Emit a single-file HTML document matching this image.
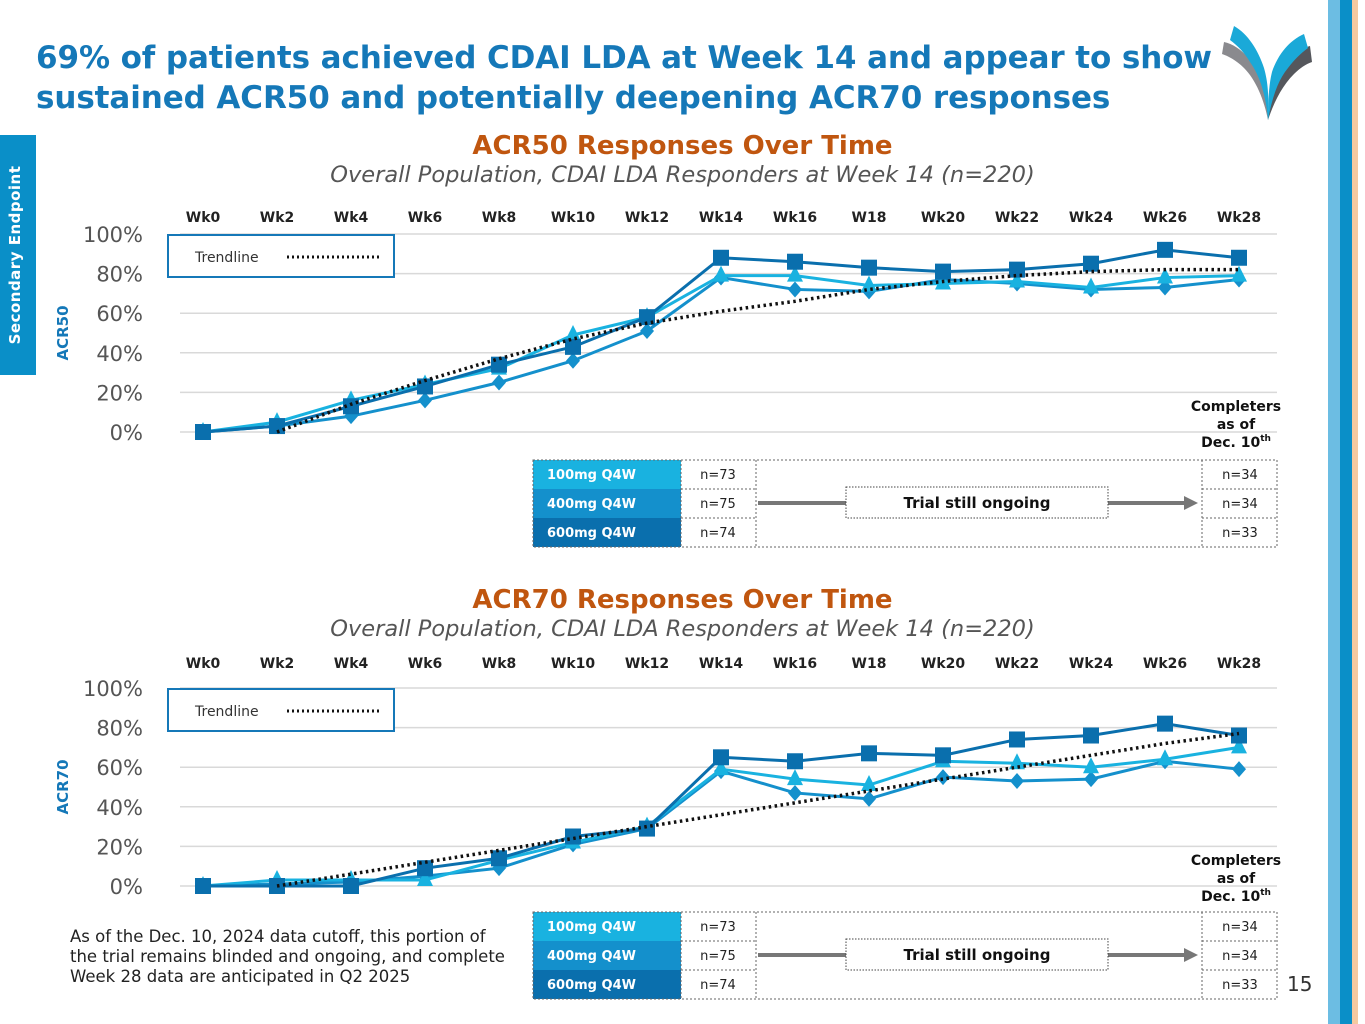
<!DOCTYPE html>
<html><head><meta charset="utf-8">
<style>
body{margin:0;width:1365px;height:1024px;overflow:hidden;background:#fff;font-family:"DejaVu Sans","Liberation Sans",sans-serif;position:relative}
.abs{position:absolute}
.title{left:36px;top:38px;font-size:31px;font-weight:bold;color:#1578b8;line-height:40px;letter-spacing:-0.1px}
.ct{font-size:26px;font-weight:bold;color:#c0560f;text-align:center;width:1365px;left:0}
.cs{font-size:22.5px;font-style:italic;color:#555;text-align:center;width:1365px;left:0}
</style></head><body>
<div class="abs title">69% of patients achieved CDAI LDA at Week 14 and appear to show<br>sustained ACR50 and potentially deepening ACR70 responses</div>
<div class="abs" style="left:0;top:135px;width:36px;height:240px;background:#0a8fc8"></div>
<div class="abs" style="left:-102px;top:243px;width:240px;height:24px;transform:rotate(-90deg);color:#fff;font-weight:bold;font-size:15px;text-align:center;letter-spacing:0.5px">Secondary Endpoint</div>
<div class="abs" style="left:1328px;top:0;width:12px;height:1024px;background:#6cbde3"></div>
<div class="abs" style="left:1340px;top:0;width:12px;height:1024px;background:#0a8fc8"></div>
<div class="abs" style="left:1352px;top:0;width:6px;height:1024px;background:#f5c9a0"></div>
<svg class="abs" style="left:1222px;top:24px" width="90" height="98" viewBox="0 0 90 98">
<path d="M2,18 C20,22 34,40 40,60 C44,74 46,86 46,96 C42,76 34,56 22,44 C14,36 6,32 0,30Z" fill="#8a8a8e"/>
<path d="M12,2 C26,10 36,26 42,44 C46,58 47,72 46,96 C44,72 38,52 28,38 C22,28 16,22 8,16Z" fill="#1aa9d8"/>
<path d="M88,22 C72,26 60,40 54,58 C50,70 47,84 46,96 C52,78 60,62 72,50 C78,44 84,40 90,38Z" fill="#55575c"/>
<path d="M82,10 C68,16 56,30 50,48 C47,60 46,76 46,96 C50,74 56,56 66,44 C72,36 78,30 86,24Z" fill="#1aa9d8"/>
</svg>
<div class="abs ct" style="top:131px">ACR50 Responses Over Time</div>
<div class="abs cs" style="top:162px">Overall Population, CDAI LDA Responders at Week 14 (n=220)</div>
<div class="abs ct" style="top:585px">ACR70 Responses Over Time</div>
<div class="abs cs" style="top:616px">Overall Population, CDAI LDA Responders at Week 14 (n=220)</div>
<div class="abs" style="left:70px;top:927px;font-size:16.5px;line-height:20px;color:#222;white-space:nowrap">As of the Dec. 10, 2024 data cutoff, this portion of<br>the trial remains blinded and ongoing, and complete<br>Week 28 data are anticipated in Q2 2025</div>
<div class="abs" style="left:1287px;top:972px;font-size:20px;color:#333">15</div>
<svg id="chart" class="abs" style="left:0;top:0" width="1365" height="1024"></svg>
<script>
const weeks=["Wk0","Wk2","Wk4","Wk6","Wk8","Wk10","Wk12","Wk14","Wk16","W18","Wk20","Wk22","Wk24","Wk26","Wk28"];
const yTicks=[0,20,40,60,80,100];
const acr50_600=[0,3,13,23,34,43,58,88,86,83,81,82,85,92,88];
const acr50_100=[0,5,16,24,32,49,58,79,79,74,75,76,73,78,79];
const acr50_400=[0,3,8,16,25,36,51,78,72,71,77,75,72,73,77];
const acr50_trend=[null,0,14,26,37,47,55,61,66,72,76,79,81,82,82];
const acr70_600=[0,0,0,9,14,25,29,65,63,67,66,74,76,82,76];
const acr70_100=[0,3,3,3,13,22,30,59,54,51,63,62,60,64,70];
const acr70_400=[0,1,2,5,9,21,29,58,47,44,55,53,54,63,59];
const acr70_trend=[null,0,6,12,18,24,30,36,42,48,54,60,66,72,77];
const doses=["100mg Q4W","400mg Q4W","600mg Q4W"];
const nStart=["n=73","n=75","n=74"];
const nEnd=["n=34","n=34","n=33"];
const doseColors=["#19b2e0","#1490cc","#0a6fad"];
const NS="http://www.w3.org/2000/svg";
const svg=document.getElementById('chart');
function mk(t,a,p){const e=document.createElementNS(NS,t);for(const k in a)e.setAttribute(k,a[k]);(p||svg).appendChild(e);return e;}
function drawChart(prefix,y0,labelY,sq,tri,dia,trend,tableY){
  const g=mk('g',{});
  
  
  const x=i=>203+i*74, y=v=>y0-v*1.98;
  yTicks.forEach(t=>{
    const l=mk('line',{x1:180,x2:1277,y1:y(t),y2:y(t),stroke:'#d9d9d9','stroke-width':1.5},g);
    
    const tx=mk('text',{x:143,y:y(t)+8,'text-anchor':'end','font-size':21,fill:'#555','font-family':'DejaVu Sans,sans-serif'},g);tx.textContent=t+'%';
    
  });
  weeks.forEach((w,i)=>{const t=mk('text',{x:x(i),y:labelY,'text-anchor':'middle','font-size':14,'font-weight':'bold',fill:'#222'},g);t.textContent=w;
    });
  const at=mk('text',{x:0,y:0,transform:`translate(68,${y(50)}) rotate(-90)`,'text-anchor':'middle','font-size':15,'font-weight':'bold',fill:'#1578b8'},g);
  at.textContent=prefix.toUpperCase();
  const lb=mk('rect',{x:168,y:y(100)+1,width:226,height:42,fill:'#fff',stroke:'#1578b8','stroke-width':2},g);
  
  const lt=mk('text',{x:195,y:y(100)+28,'font-size':14,fill:'#333'},g);lt.textContent='Trendline';
  
  mk('line',{x1:287,x2:382,y1:y(100)+23,y2:y(100)+23,stroke:'#111','stroke-width':3,'stroke-dasharray':'2,3'},g);
  function series(vals,color,shape,name){
    const pts=vals.map((v,i)=>x(i)+','+y(v)).join(' ');
    const pl=mk('polyline',{points:pts,fill:'none',stroke:color,'stroke-width':3},g);
    
    vals.forEach((v,i)=>{const cx=x(i),cy=y(v);let m;
      if(shape==='sq')m=mk('rect',{x:cx-8,y:cy-8,width:16,height:16,fill:color},g);
      else if(shape==='tri')m=mk('polygon',{points:`${cx},${cy-10} ${cx+8},${cy+6} ${cx-8},${cy+6}`,fill:color},g);
      else m=mk('polygon',{points:`${cx},${cy-8} ${cx+7},${cy} ${cx},${cy+8} ${cx-7},${cy}`,fill:color},g);
      });
  }
  series(dia,doseColors[1],'dia','400mg');
  series(tri,doseColors[0],'tri','100mg');
  series(sq,doseColors[2],'sq','600mg');
  const tp=trend.map((v,i)=>v==null?null:x(i)+','+y(v)).filter(p=>p).join(' ');
  const tl=mk('polyline',{points:tp,fill:'none',stroke:'#111','stroke-width':3.5,'stroke-dasharray':'2.5,3.5'},g);
  
  ['Completers','as of','Dec. 10'].forEach((s,i)=>{const t=mk('text',{x:1236,y:y0-21+i*18,'text-anchor':'middle','font-size':14,'font-weight':'bold',fill:'#111'},g);t.textContent=s;
    if(i==2){const sp=mk('tspan',{'font-size':9,dy:-6},t);sp.textContent='th';}
    });
  const T=tableY;
  doses.forEach((d,i)=>{const ry=T+i*29;
    const r=mk('rect',{x:533,y:ry,width:148,height:29,fill:doseColors[i]},g);
    const t=mk('text',{x:547,y:ry+19,'font-size':13,'font-weight':'bold',fill:'#fff'},g);t.textContent=d;
    const a=mk('text',{x:718,y:ry+19,'text-anchor':'middle','font-size':13,fill:'#222'},g);a.textContent=nStart[i];
    
    const b=mk('text',{x:1240,y:ry+19,'text-anchor':'middle','font-size':13,fill:'#222'},g);b.textContent=nEnd[i];
    
    if(i>0){mk('line',{x1:681,x2:756,y1:ry,y2:ry,stroke:'#666','stroke-dasharray':'2,2'},g);mk('line',{x1:1202,x2:1277,y1:ry,y2:ry,stroke:'#666','stroke-dasharray':'2,2'},g);}
  });
  mk('rect',{x:533,y:T,width:744,height:87,fill:'none',stroke:'#666','stroke-dasharray':'2,2'},g);
  [681,756,1202].forEach(xx=>mk('line',{x1:xx,x2:xx,y1:T,y2:T+87,stroke:'#666','stroke-dasharray':'2,2'},g));
  mk('line',{x1:758,x2:846,y1:T+43,y2:T+43,stroke:'#777','stroke-width':4},g);
  mk('line',{x1:1108,x2:1185,y1:T+43,y2:T+43,stroke:'#777','stroke-width':4},g);
  mk('polygon',{points:`1184,${T+36} 1198,${T+43} 1184,${T+50}`,fill:'#777'},g);
  const ob=mk('rect',{x:846,y:T+27,width:262,height:31,fill:'#fff',stroke:'#444','stroke-dasharray':'1.5,1.5'},g);
  
  const ot=mk('text',{x:977,y:T+48,'text-anchor':'middle','font-size':15,'font-weight':'bold',fill:'#111'},g);ot.textContent='Trial still ongoing';
}
drawChart('acr50',432,222,acr50_600,acr50_100,acr50_400,acr50_trend,460);
drawChart('acr70',886,668,acr70_600,acr70_100,acr70_400,acr70_trend,912);
</script>
</body></html>
